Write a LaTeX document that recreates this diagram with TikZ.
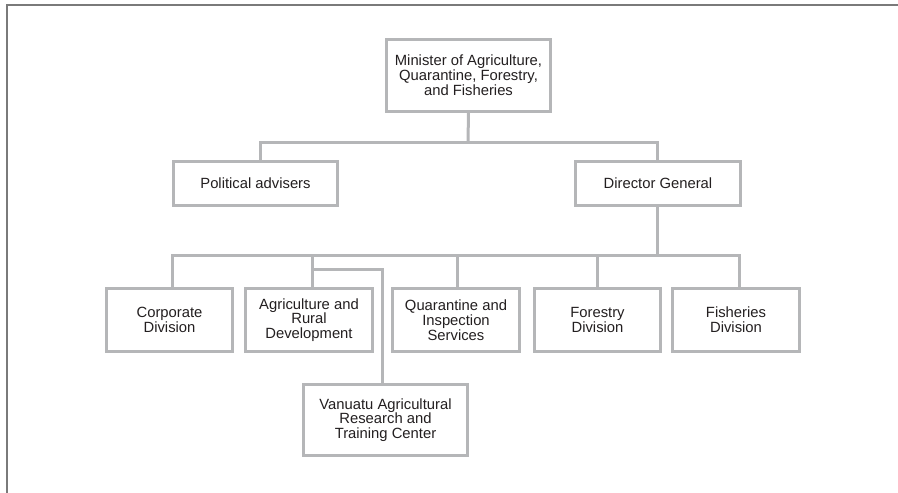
\documentclass[tikz,border=0pt]{standalone}
\usepackage{fontspec}
\setmainfont{Liberation Sans}
\definecolor{boxgray}{HTML}{B5B6B8}
\definecolor{framegray}{HTML}{7A7A7A}
\definecolor{txt}{HTML}{231F20}
\begin{document}
\begin{tikzpicture}[x=1pt,y=-1pt,
  orgbox/.style={draw=boxgray, line width=3pt, fill=white, inner sep=0pt, align=center,
    text=txt, font=\fontsize{14.8}{14.8}\selectfont},
  link/.style={draw=boxgray, line width=3pt}]
\useasboundingbox (0,0) rectangle (898,493);
\draw[framegray, line width=1.3pt] (898,5) -- (7,5) -- (7,493);

\node[orgbox, minimum width=164pt, minimum height=72pt] (min) at (468.5,75.5)
  {Minister of Agriculture,\\Quarantine, Forestry,\\and Fisheries};
\node[orgbox, minimum width=164pt, minimum height=44pt] (pol) at (255.5,183.5) {Political advisers};
\node[orgbox, minimum width=165pt, minimum height=44pt] (dg) at (658,183.5) {Director General};

\node[orgbox, minimum width=126pt, minimum height=63pt] (corp) at (169.5,320) {Corporate\\Division};
\node[orgbox, minimum width=127pt, minimum height=63pt] (agri) at (309,320) {Agriculture and\\Rural\\Development};
\node[orgbox, minimum width=127pt, minimum height=63pt] (quar) at (456,320) {Quarantine and\\Inspection\\Services};
\node[orgbox, minimum width=126pt, minimum height=63pt] (fore) at (597.5,320) {Forestry\\Division};
\node[orgbox, minimum width=127pt, minimum height=63pt] (fish) at (736,320) {Fisheries\\Division};
\node[orgbox, minimum width=164pt, minimum height=71pt] (van) at (385.5,420)
  {Vanuatu Agricultural\\Research and\\Training Center};

\coordinate (b1) at (468,142);
\coordinate (b2) at (657,255);
\coordinate (b3) at (312,269);

% level 1
\draw[link] (min.south) -- (b1);
\draw[link] ([xshift=4.5pt]pol.north) |- (b1) -| ([xshift=-1pt]dg.north);
% level 2
\draw[link] ([xshift=-1pt]dg.south) -- (b2);
\draw[link] ([xshift=2.5pt]corp.north) |- (b2) -| ([xshift=3pt]fish.north);
\draw[link] ([xshift=3pt]agri.north) -- ([xshift=3pt]agri.north |- b2);
\draw[link] ([xshift=1pt]quar.north) -- ([xshift=1pt]quar.north |- b2);
\draw[link] ([xshift=-0.5pt]fore.north) -- ([xshift=-0.5pt]fore.north |- b2);
\draw[link] (b3) -| ([xshift=-3.5pt]van.north);
\end{tikzpicture}
\end{document}
